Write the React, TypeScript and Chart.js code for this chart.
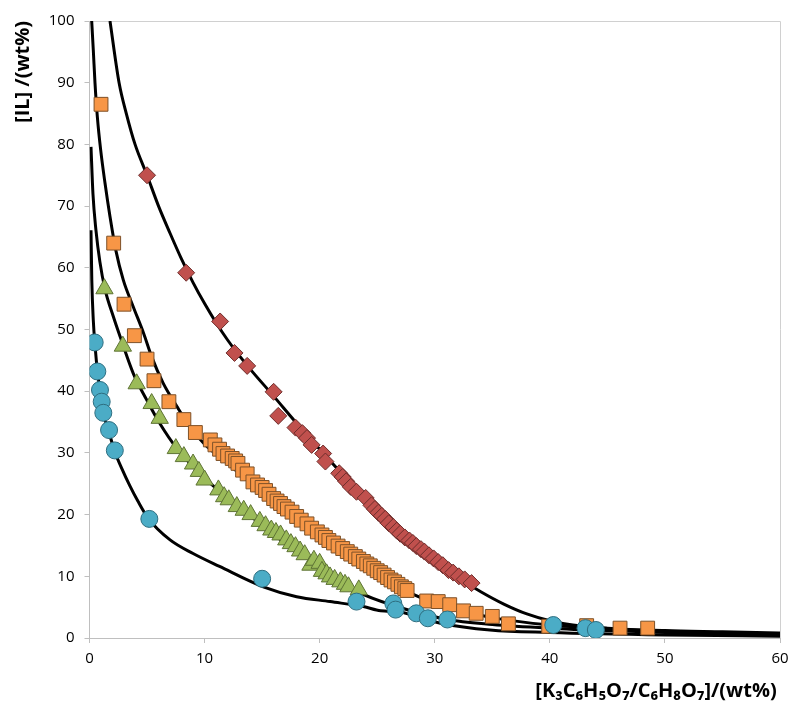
import React, { useEffect, useRef } from 'react';
import { Chart, registerables } from 'chart.js';
Chart.register(...registerables);

// ---- measured series (x = salt wt%, y = IL wt%) ----
const redX = [5.0, 8.4, 11.35, 12.6, 13.7, 16.0, 16.4, 17.9, 18.5, 18.9, 19.3, 20.3, 20.5, 21.7, 22.0, 22.3, 22.7, 23.2, 24.0, 24.5, 24.8, 25.1, 25.4, 25.7, 26.0, 26.4, 26.7, 27.0, 27.4, 27.8, 28.1, 28.4, 28.8, 29.1, 29.5, 29.9, 30.3, 30.7, 31.2, 31.6, 32.1, 32.6, 33.2];
const redY = [75.0, 59.2, 51.3, 46.2, 44.1, 39.9, 36.0, 34.1, 33.2, 32.4, 31.3, 29.9, 28.6, 26.7, 26.1, 25.4, 24.5, 23.7, 22.7, 21.5, 20.9, 20.3, 19.8, 19.3, 18.6, 18.0, 17.4, 16.9, 16.3, 15.8, 15.4, 14.9, 14.4, 14.0, 13.4, 12.9, 12.3, 11.8, 11.0, 10.6, 10.0, 9.5, 8.9];

const orangeX = [1.0, 2.1, 3.0, 3.9, 5.0, 5.6, 6.9, 8.2, 9.2, 10.5, 10.9, 11.3, 11.6, 12.0, 12.4, 12.7, 12.9, 13.3, 13.7, 14.2, 14.6, 15.0, 15.3, 15.6, 16.0, 16.3, 16.6, 16.9, 17.2, 17.6, 18.0, 18.4, 18.9, 19.3, 19.8, 20.2, 20.5, 20.8, 21.2, 21.6, 22.0, 22.4, 22.7, 23.1, 23.4, 23.8, 24.1, 24.4, 24.7, 25.0, 25.3, 25.6, 25.9, 26.2, 26.5, 26.8, 27.1, 27.4, 27.6, 29.3, 30.3, 31.3, 32.5, 33.6, 35.0, 36.4, 39.9, 43.2, 46.1, 48.5];
const orangeY = [86.5, 64.0, 54.1, 49.0, 45.2, 41.7, 38.3, 35.4, 33.3, 32.1, 31.3, 30.6, 29.9, 29.5, 29.1, 28.7, 28.3, 27.2, 26.6, 25.3, 24.8, 24.4, 23.9, 23.3, 22.6, 22.2, 21.8, 21.3, 20.9, 20.4, 19.7, 19.1, 18.5, 17.8, 17.2, 16.7, 16.3, 15.8, 15.4, 14.9, 14.5, 14.0, 13.6, 13.2, 12.8, 12.4, 12.0, 11.7, 11.3, 10.9, 10.6, 10.2, 9.8, 9.4, 9.1, 8.7, 8.3, 8.0, 7.7, 6.0, 5.9, 5.4, 4.4, 4.0, 3.5, 2.3, 1.9, 2.0, 1.6, 1.6];

const greenX = [1.3, 2.9, 4.1, 5.4, 6.1, 7.5, 8.2, 9.0, 9.5, 10.0, 11.2, 11.7, 12.1, 12.8, 13.4, 14.0, 14.8, 15.3, 15.8, 16.2, 16.6, 17.1, 17.5, 17.9, 18.3, 18.7, 19.2, 19.5, 20.0, 20.2, 20.6, 20.9, 21.3, 21.8, 22.2, 22.5, 23.4];
const greenY = [56.6, 47.3, 41.2, 38.0, 35.6, 30.7, 29.4, 28.2, 27.0, 25.6, 24.0, 22.9, 22.4, 21.3, 20.7, 20.0, 18.9, 18.2, 17.5, 17.1, 16.7, 15.9, 15.3, 14.8, 14.1, 13.5, 11.8, 12.6, 12.1, 10.8, 10.4, 9.9, 9.5, 9.1, 8.7, 8.3, 7.8];

const blueX = [0.45, 0.68, 0.91, 1.06, 1.2, 1.7, 2.2, 5.2, 15.0, 23.2, 26.4, 26.6, 28.4, 29.4, 31.1, 40.3, 43.1, 44.0];
const blueY = [47.9, 43.2, 40.2, 38.3, 36.5, 33.7, 30.4, 19.3, 9.6, 5.9, 5.6, 4.6, 4.0, 3.2, 3.0, 2.1, 1.6, 1.3];

// ---- fitted curves ----
const redFitX = [1.78, 2.57, 3.2, 3.96, 5.0, 6.0, 7.0, 8.0, 9.0, 10.0, 11.0, 12.0, 13.0, 14.0, 16.0, 18.0, 20.0, 22.0, 24.0, 26.0, 28.0, 30.0, 32.0, 34.0, 36.0, 38.0, 40.0, 42.0, 45.0, 50.0, 55.0, 60.0];
const redFitY = [100, 90, 85, 80, 75, 70, 65.6, 61.4, 57.6, 54.2, 51.1, 48.3, 45.8, 43.5, 39.2, 34.8, 30.6, 26.5, 22.6, 18.9, 15.5, 12.4, 9.8, 7.5, 5.5, 3.9, 2.8, 2.1, 1.6, 1.2, 1.0, 0.8];

const orangeFitX = [0.19, 0.33, 0.48, 0.68, 0.97, 1.35, 1.78, 2.28, 2.94, 3.8, 4.7, 5.4, 6.4, 7.6, 8.7, 10.0, 12.0, 14.0, 16.0, 18.0, 20.0, 22.0, 24.0, 26.0, 28.0, 30.0, 32.0, 35.0, 40.0, 45.0, 50.0, 60.0];
const orangeFitY = [100, 95.3, 89.9, 84.5, 79.1, 73.7, 68.3, 62.9, 58.0, 53.7, 49.4, 45.6, 41.3, 37.5, 34.3, 31.4, 28.3, 25.1, 22.2, 19.4, 16.7, 14.1, 11.7, 9.3, 7.2, 5.7, 4.6, 3.3, 2.1, 1.5, 1.1, 0.7];

const greenFitX = [0.13, 0.3, 0.56, 0.9, 1.35, 2.07, 2.65, 3.8, 4.97, 6.1, 7.6, 10.2, 13.7, 16.6, 19.5, 21.0, 23.2, 26.7, 31.1, 35.0, 40.0, 45.0, 50.0, 60.0];
const greenFitY = [79.6, 72.0, 66.1, 61.0, 56.5, 52.1, 48.9, 42.9, 38.6, 34.8, 30.7, 25.6, 20.2, 15.9, 12.4, 10.4, 7.6, 5.1, 3.0, 2.2, 1.6, 1.2, 0.9, 0.6];

const blueFitX = [0.13, 0.2, 0.33, 0.5, 0.7, 0.9, 1.06, 1.2, 1.7, 2.2, 2.8, 3.5, 4.2, 5.1, 7.0, 9.0, 11.3, 15.1, 18.0, 20.9, 23.8, 25.3, 27.0, 28.5, 30.5, 34.8, 40.0, 50.0, 60.0];
const blueFitY = [66.1, 58.0, 51.5, 47.0, 43.0, 40.2, 38.3, 36.5, 33.3, 30.2, 27.5, 24.7, 22.2, 19.4, 15.9, 13.7, 11.6, 8.3, 6.7, 5.9, 5.1, 4.4, 4.2, 3.4, 2.4, 1.3, 0.9, 0.5, 0.3];

const xTicks = [0, 10, 20, 30, 40, 50, 60];
const yTicks = [0, 10, 20, 30, 40, 50, 60, 70, 80, 90, 100];

const xTitle = '[K\u2083C\u2086H\u2085O\u2087/C\u2086H\u2088O\u2087]/(wt%)';
const yTitle = '[IL] /(wt%)';

const pts = (xs: number[], ys: number[]) => xs.map((x, i) => ({ x, y: ys[i] }));

const framePlugin = {
  id: 'frame',
  beforeDatasetsDraw(chart: any) {
    const { ctx, chartArea: a } = chart;
    ctx.save();
    ctx.strokeStyle = '#d0d0d0';
    ctx.lineWidth = 1;
    ctx.beginPath();
    ctx.moveTo(a.left, a.top + 0.5);
    ctx.lineTo(a.right + 0.5, a.top + 0.5);
    ctx.lineTo(a.right + 0.5, a.bottom);
    ctx.stroke();
    ctx.restore();
  },
};

export default function App() {
  const ref = useRef<HTMLCanvasElement>(null);
  useEffect(() => {
    if (!ref.current) return;
    const lineDs = (xs: number[], ys: number[]) => ({
      data: pts(xs, ys),
      showLine: true,
      borderColor: '#000000',
      borderWidth: 3,
      pointRadius: 0,
      cubicInterpolationMode: 'monotone' as const,
      fill: false,
      order: 5,
    });
    const chart = new Chart(ref.current, {
      type: 'scatter',
      data: {
        datasets: [
          { data: pts(blueX, blueY), pointStyle: 'circle', pointRadius: 8.5, backgroundColor: '#4BACC6', borderColor: '#2E6E80', borderWidth: 1, order: 0 },
          { data: pts(greenX, greenY), pointStyle: 'triangle', pointRadius: 10, backgroundColor: '#9BBB59', borderColor: '#5E7335', borderWidth: 1, order: 1 },
          { data: pts(orangeX, orangeY), pointStyle: 'rect', pointRadius: 9.8, backgroundColor: '#F79646', borderColor: '#7E5128', borderWidth: 1, order: 2 },
          { data: pts(redX, redY), pointStyle: 'rectRot', pointRadius: 8.5, backgroundColor: '#C0504D', borderColor: '#6E2E2C', borderWidth: 1, order: 3 },
          lineDs(redFitX, redFitY),
          lineDs(orangeFitX, orangeFitY),
          lineDs(greenFitX, greenFitY),
          lineDs(blueFitX, blueFitY),
        ] as any,
      },
      options: {
        responsive: false,
        animation: false,
        layout: { padding: { top: 21, right: 20, bottom: 0, left: 0 } },
        plugins: { legend: { display: false }, tooltip: { enabled: false } },
        scales: {
          x: {
            type: 'linear',
            min: 0,
            max: 60,
            afterBuildTicks: (s: any) => { s.ticks = xTicks.map((v) => ({ value: v })); },
            afterFit: (s: any) => { s.height = 81; },
            grid: { drawOnChartArea: false, drawTicks: true, tickLength: 5, color: '#bfbfbf' },
            border: { color: '#bfbfbf' },
            ticks: { color: '#000', padding: 7, font: { family: 'Open Sans', size: 15 } },
            title: { display: true, text: xTitle + '\u2009', align: 'end', color: '#000', padding: { top: 0, bottom: 16 }, font: { family: 'Open Sans', size: 20, weight: 'bold' } },
          },
          y: {
            type: 'linear',
            min: 0,
            max: 100,
            afterBuildTicks: (s: any) => { s.ticks = yTicks.map((v) => ({ value: v })); },
            afterFit: (s: any) => { s.width = 89.5; },
            grid: { drawOnChartArea: false, drawTicks: true, tickLength: 5, color: '#bfbfbf' },
            border: { color: '#bfbfbf' },
            ticks: { color: '#000', padding: 10, font: { family: 'Open Sans', size: 15 } },
            title: { display: true, text: yTitle, align: 'end', color: '#000', padding: { top: 11, bottom: 0 }, font: { family: 'Open Sans', size: 20, weight: 'bold' } },
          },
        },
      },
      plugins: [framePlugin],
    });
    return () => chart.destroy();
  }, []);
  return (
    <div style={{ position: 'fixed', left: 0, top: 0, width: 800, height: 719, background: '#fff' }}>
      <canvas ref={ref} width={800} height={719} />
    </div>
  );
}
